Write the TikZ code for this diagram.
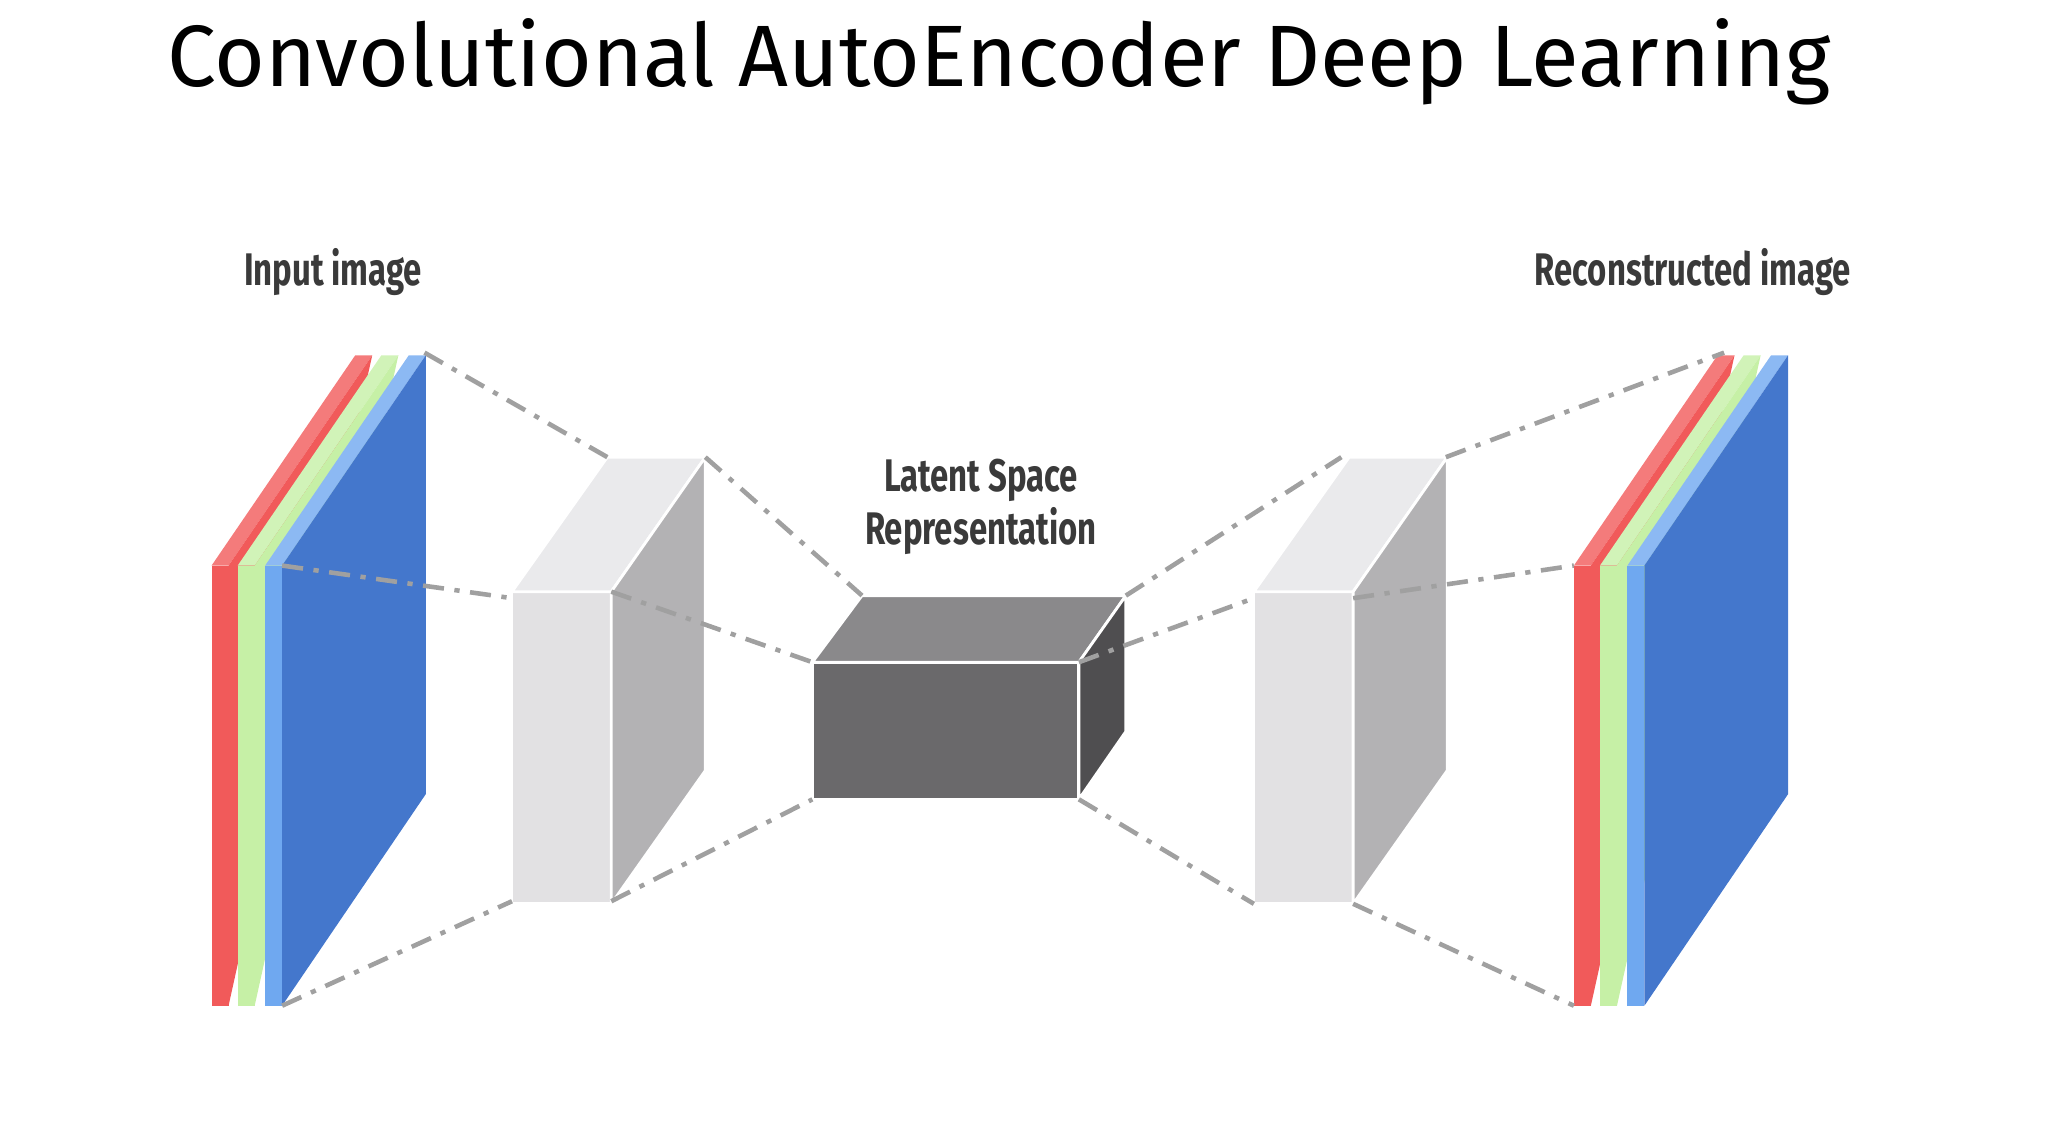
\documentclass[tikz,border=0pt]{standalone}
\usepackage{fontspec}
\setmainfont{Fira Sans}
\usetikzlibrary{positioning,calc}
\definecolor{redL}{HTML}{F15A5A}
\definecolor{greenL}{HTML}{C6F0A6}
\definecolor{blueL}{HTML}{6FA8F0}
\definecolor{blueS}{HTML}{4477CC}
\definecolor{boxF}{HTML}{E2E1E3}
\definecolor{boxT}{HTML}{EAEAEC}
\definecolor{boxS}{HTML}{B3B2B4}
\definecolor{latF}{HTML}{6A696B}
\definecolor{latT}{HTML}{8A898B}
\definecolor{latS}{HTML}{4F4E50}
\definecolor{linkC}{HTML}{A0A0A0}
\definecolor{labelC}{HTML}{3A3A3A}
\newcommand{\narrow}[1]{\scalebox{0.72}[1]{#1}}

\begin{document}
\begin{tikzpicture}[
    x=0.01306cm, y=-0.01306cm,
    link/.style = {draw=linkC, line width=1.3pt, dash pattern=on 6pt off 3pt on 1.5pt off 3pt},
    label/.style = {font=\bfseries\fontsize{13}{16}\selectfont, text=labelC, align=center},
    face/.style = {draw=white, line width=0.8pt}
]
    \useasboundingbox (0,0) rectangle (1568,877);
    % Title
    \node[font=\fontsize{24.8}{30}\selectfont] (title) at (765,47) {Convolutional AutoEncoder Deep Learning};
    % Labels
    \node[label] (inlab) at (255,208) {\narrow{Input image}};
    \node[label] (reclab) at (1296,208) {\narrow{Reconstructed image}};
    \node[label] (latlab) at (751,388) {\narrow{Latent Space}\\[-1pt]\narrow{Representation}};

    % image stacks: #1 = x of front face, #2 = side colour, #3 = front colour, #4 = side depth
    \newcommand{\imglayer}[4]{%
        \fill[#3] (#1,433) rectangle (#1+13,770);
        \fill[#3!80!white] (#1,433) -- (#1+110,272) -- (#1+123,272) -- (#1+13,433) -- cycle;
        \fill[#2] (#1+13,433) -- (#1+123,272) -- (#1+123,272+#4) -- (#1+13,770) -- cycle;
    }
    \imglayer{162}{redL}{redL}{0}
    \imglayer{182}{greenL}{greenL}{0}
    \imglayer{203}{blueS}{blueL}{336}
    \imglayer{1205}{redL}{redL}{0}
    \imglayer{1225}{greenL}{greenL}{0}
    \imglayer{1246}{blueS}{blueL}{336}

    % feature blocks: #1 = x of front face
    \newcommand{\featblock}[1]{%
        \filldraw[face, fill=boxF] (#1,453) rectangle (#1+76,692);
        \filldraw[face, fill=boxT] (#1,453) -- (#1+73,350) -- (#1+148,350) -- (#1+76,453) -- cycle;
        \filldraw[face, fill=boxS] (#1+76,453) -- (#1+148,350) -- (#1+148,590) -- (#1+76,692) -- cycle;
    }
    \featblock{392}
    \featblock{960}

    % latent block
    \filldraw[face, fill=latF] (622,507) rectangle (826,612);
    \filldraw[face, fill=latT] (622,507) -- (660,456) -- (862,456) -- (826,507) -- cycle;
    \filldraw[face, fill=latS] (826,507) -- (862,456) -- (862,560) -- (826,612) -- cycle;

    % corner points
    \coordinate (in-t) at (325,270);
    \coordinate (in-m) at (216,433);
    \coordinate (in-b) at (216,770);
    \coordinate (enc-t) at (465,350);
    \coordinate (enc-tr) at (540,350);
    \coordinate (enc-ml) at (392,458);
    \coordinate (enc-mr) at (468,453);
    \coordinate (enc-bl) at (392,690);
    \coordinate (enc-br) at (468,690);
    \coordinate (lat-tl) at (660,456);
    \coordinate (lat-tr) at (862,456);
    \coordinate (lat-ml) at (622,507);
    \coordinate (lat-mr) at (826,507);
    \coordinate (lat-bl) at (622,612);
    \coordinate (lat-br) at (826,612);
    \coordinate (dec-t) at (1027,350);
    \coordinate (dec-tr) at (1107,350);
    \coordinate (dec-ml) at (960,458);
    \coordinate (dec-mr) at (1036,458);
    \coordinate (dec-bl) at (960,692);
    \coordinate (dec-br) at (1036,692);
    \coordinate (out-t) at (1320,270);
    \coordinate (out-m) at (1205,433);
    \coordinate (out-b) at (1205,770);

    % links
    \draw[link] (in-t) -- (enc-t);
    \draw[link] (in-m) -- (enc-ml);
    \draw[link] (in-b) -- (enc-bl);
    \draw[link] (enc-tr) -- (lat-tl);
    \draw[link] (enc-mr) -- (lat-ml);
    \draw[link] (enc-br) -- (lat-bl);
    \draw[link] (lat-tr) -- (dec-t);
    \draw[link] (lat-mr) -- (dec-ml);
    \draw[link] (lat-br) -- (dec-bl);
    \draw[link] (dec-tr) -- (out-t);
    \draw[link] (dec-mr) -- (out-m);
    \draw[link] (dec-br) -- (out-b);
\end{tikzpicture}
\end{document}
